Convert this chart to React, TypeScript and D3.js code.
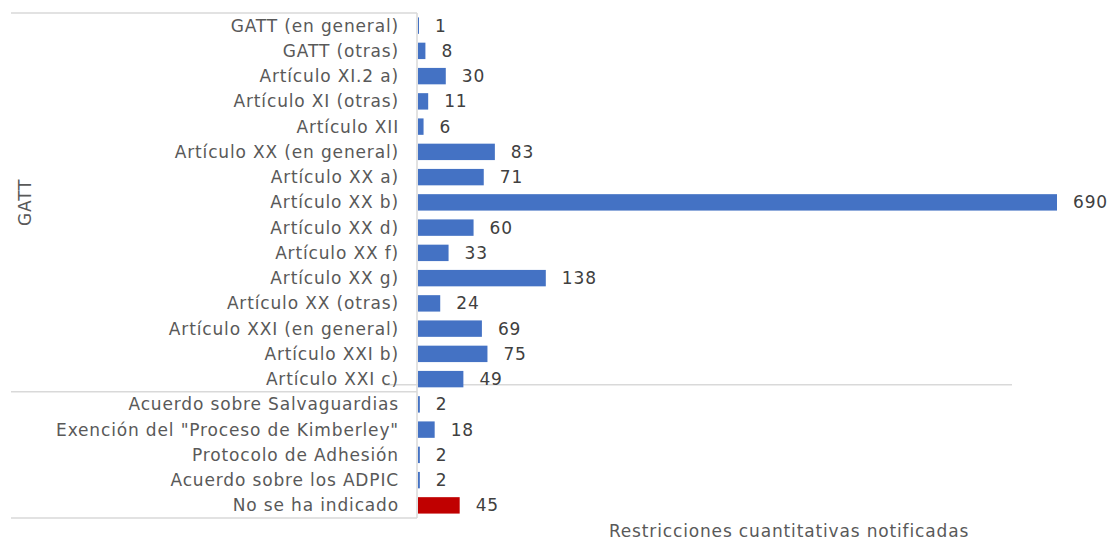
import React, { useEffect, useRef } from "react";
import * as d3 from "d3";

const categories = [
  "GATT (en general)",
  "GATT (otras)",
  "Artículo XI.2 a)",
  "Artículo XI (otras)",
  "Artículo XII",
  "Artículo XX (en general)",
  "Artículo XX a)",
  "Artículo XX b)",
  "Artículo XX d)",
  "Artículo XX f)",
  "Artículo XX g)",
  "Artículo XX (otras)",
  "Artículo XXI (en general)",
  "Artículo XXI b)",
  "Artículo XXI c)",
  "Acuerdo sobre Salvaguardias",
  "Exención del \"Proceso de Kimberley\"",
  "Protocolo de Adhesión",
  "Acuerdo sobre los ADPIC",
  "No se ha indicado",
];
const values = [1, 8, 30, 11, 6, 83, 71, 690, 60, 33, 138, 24, 69, 75, 49, 2, 18, 2, 2, 45];
const highlighted = ["No se ha indicado"];
const groupLabel = "GATT";
const groupSize = 15;
const axisTitle = "Restricciones cuantitativas notificadas";

export default function App() {
  const ref = useRef<SVGSVGElement>(null);

  useEffect(() => {
    const svg = d3.select(ref.current);
    svg.selectAll("*").remove();

    const left = 418;
    const top = 13;
    const bottom = 518;
    const font = "'DejaVu Sans', Verdana, sans-serif";
    const fs = 17;
    const ls = 0.85;
    const textColor = "#595959";

    const x = d3.scaleLinear().domain([0, 690]).range([left, 1057]);
    const y = d3
      .scaleBand()
      .domain(categories)
      .range([top, bottom])
      .paddingInner(0.35)
      .paddingOuter(0.175);
    const step = y.step();

    const g = svg.append("g");

    // frame lines of the multi-level category axis
    const lineColor = "#d9d9d9";
    const sepY = top + step * groupSize;
    [top, sepY, bottom].forEach((yy) => {
      g.append("line")
        .attr("x1", 11).attr("x2", left - 1)
        .attr("y1", yy).attr("y2", yy)
        .attr("stroke", lineColor).attr("stroke-width", 1.5);
    });
    g.append("line")
      .attr("x1", left - 1).attr("x2", left - 1)
      .attr("y1", top).attr("y2", bottom)
      .attr("stroke", lineColor).attr("stroke-width", 1.5);
    g.append("line")
      .attr("x1", 384).attr("x2", 1012)
      .attr("y1", sepY - 7).attr("y2", sepY - 7)
      .attr("stroke", lineColor).attr("stroke-width", 1.5);

    // bars
    g.selectAll("rect.bar")
      .data(categories)
      .join("rect")
      .attr("class", "bar")
      .attr("x", x(0))
      .attr("y", (d) => y(d)!)
      .attr("width", (d, i) => Math.max(1, x(values[i]) - x(0)))
      .attr("height", y.bandwidth())
      .attr("fill", (d) => (highlighted.includes(d) ? "#C00000" : "#4472C4"));

    // value labels
    g.selectAll("text.val")
      .data(categories)
      .join("text")
      .attr("class", "val")
      .attr("x", (d, i) => x(values[i]) + 16)
      .attr("y", (d) => y(d)! + y.bandwidth() / 2)
      .attr("dy", "0.35em")
      .attr("font-family", font)
      .attr("font-size", fs)
      .attr("letter-spacing", ls)
      .attr("fill", "#404040")
      .text((d, i) => values[i]);

    // category labels
    g.selectAll("text.cat")
      .data(categories)
      .join("text")
      .attr("class", "cat")
      .attr("x", 399)
      .attr("y", (d) => y(d)! + y.bandwidth() / 2)
      .attr("dy", "0.35em")
      .attr("text-anchor", "end")
      .attr("font-family", font)
      .attr("font-size", fs)
      .attr("letter-spacing", ls)
      .attr("fill", textColor)
      .text((d) => d);

    // group label
    g.append("text")
      .attr("transform", `translate(31, ${(top + sepY) / 2}) rotate(-90)`)
      .attr("text-anchor", "middle")
      .attr("font-family", font)
      .attr("font-size", fs)
      .attr("letter-spacing", ls)
      .attr("fill", textColor)
      .text(groupLabel);

    // axis title
    g.append("text")
      .attr("x", 789)
      .attr("y", 537)
      .attr("text-anchor", "middle")
      .attr("font-family", font)
      .attr("font-size", fs)
      .attr("letter-spacing", ls)
      .attr("fill", textColor)
      .text(axisTitle);
  }, []);

  return (
    <svg
      ref={ref}
      width={1109}
      height={542}
      style={{ position: "absolute", left: 0, top: 0, background: "#fff" }}
    />
  );
}
